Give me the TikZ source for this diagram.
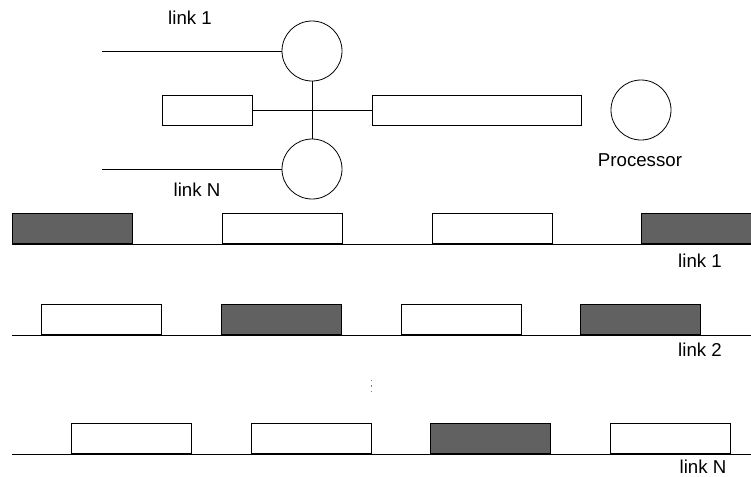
\documentclass[tikz,border=0pt]{standalone}
\usepackage{fontspec}
\setmainfont{Liberation Sans}
\usetikzlibrary{positioning}

\begin{document}
\begin{tikzpicture}[
    x=0.75pt, y=-0.75pt, line width=0.6pt,
    font=\fontsize{14}{16}\selectfont,
    port/.style={circle, draw, minimum size=45pt, inner sep=0pt},
    buf/.style={rectangle, draw, minimum height=23pt, inner sep=0pt},
    slot/.style={rectangle, draw, fill=white, minimum width=90pt, minimum height=22.5pt, inner sep=0pt, anchor=south west},
    busy/.style={slot, fill=black!62},
    lbl/.style={inner sep=0pt}
]
    \useasboundingbox (0,0) rectangle (751,476);

    % Switch
    \node[port] (in1) at (312,51) {};
    \node[port] (inN) at (312,169) {};
    \node[buf, minimum width=67.5pt] (bufL) at (207,110.5) {};
    \node[buf, minimum width=156.75pt] (bufR) at (476.5,110.5) {};
    \node[port] (cpu) at (641,110) {};
    \node[lbl] (cpulbl) at (640,160) {Processor};

    \node[lbl] (in1lbl) at (190,18) {link 1};
    \node[lbl] (inNlbl) at (197,190) {link N};

    \coordinate (l1) at (102,51);
    \coordinate (lN) at (102,169);
    \draw (l1) -- (in1.west);
    \draw (lN) -- (inN.west);
    \draw (in1.south) -- (inN.north);
    \draw (bufL.east) -- (bufR.west);

    % Link 1
    \coordinate (r1a) at (12,244);
    \coordinate (r1b) at (751,244);
    \draw (r1a) -- (r1b);
    \node[busy] (s11) at (12,244) {};
    \node[slot] (s12) at (222,244) {};
    \node[slot] (s13) at (432,244) {};
    \node[busy, minimum width=82.5pt] (s14) at (641,244) {};
    \node[lbl] (r1lbl) at (700,261) {link 1};

    % Link 2
    \coordinate (r2a) at (12,335);
    \coordinate (r2b) at (751,335);
    \draw (r2a) -- (r2b);
    \node[slot] (s21) at (41,335) {};
    \node[busy] (s22) at (221,335) {};
    \node[slot] (s23) at (401,335) {};
    \node[busy] (s24) at (580,335) {};
    \node[lbl] (r2lbl) at (700,350) {link 2};

    % more links
    \coordinate (d1) at (371,380);
    \coordinate (d2) at (371,393);
    \draw[gray, line width=0.5pt, dash pattern=on 1pt off 3pt] (d1) -- (d2);

    % Link N
    \coordinate (rNa) at (12,454);
    \coordinate (rNb) at (751,454);
    \draw (rNa) -- (rNb);
    \node[slot] (sN1) at (71,454) {};
    \node[slot] (sN2) at (251,454) {};
    \node[busy] (sN3) at (430,454) {};
    \node[slot] (sN4) at (610,454) {};
    \node[lbl] (rNlbl) at (703,467) {link N};
\end{tikzpicture}
\end{document}
